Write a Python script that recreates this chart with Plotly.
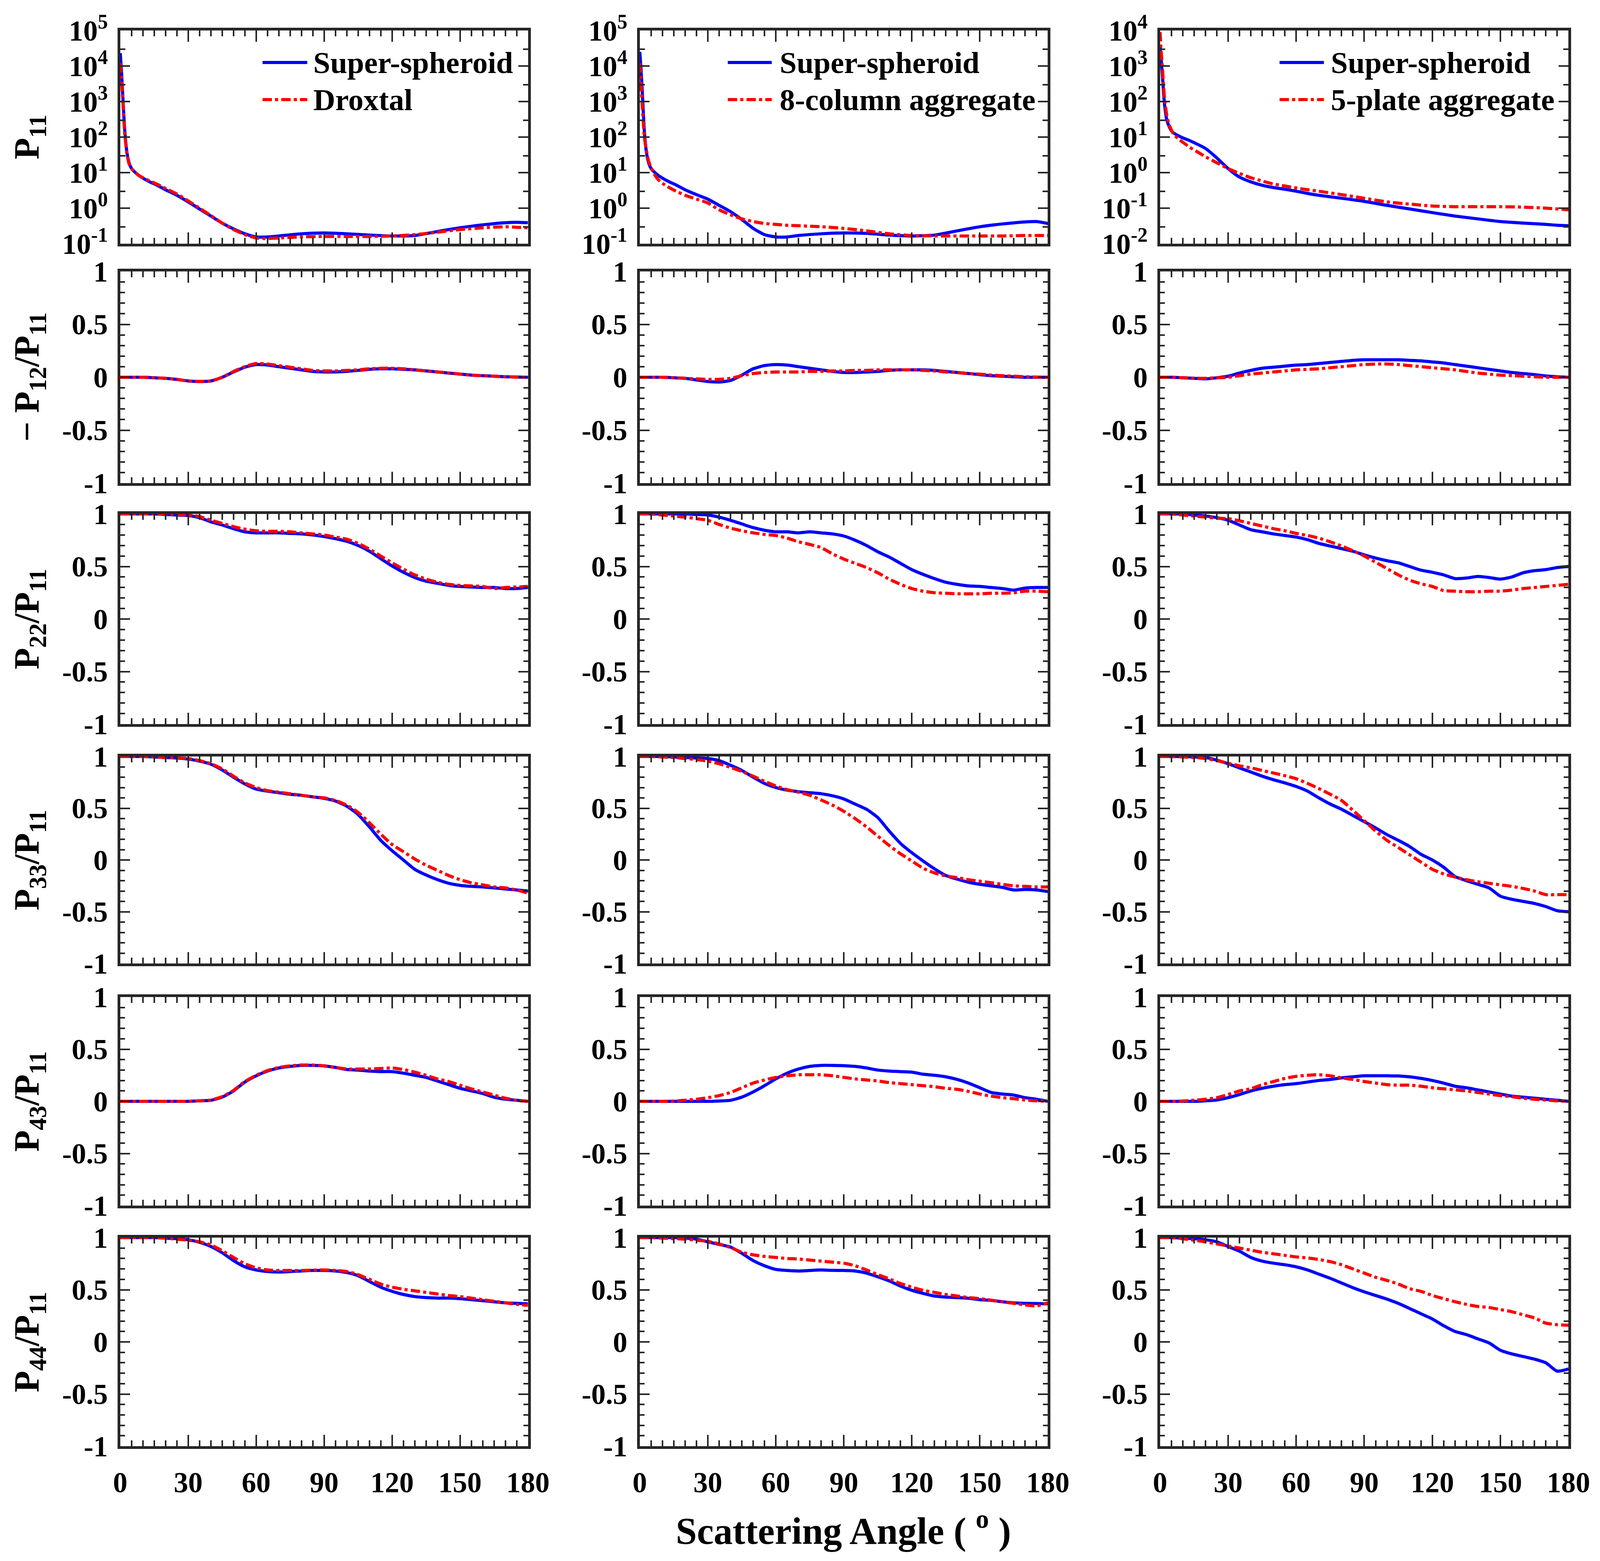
import plotly.graph_objects as go
from plotly.subplots import make_subplots

# ---------------- data ----------------
ang_p11 = [0, 0.5, 1, 1.5, 2, 3, 4, 5, 6, 8, 10, 13, 16, 20, 25, 30, 35, 40, 45, 50,
           55, 60, 65, 70, 80, 90, 100, 110, 120, 130, 140, 150, 160, 170, 175, 180]
ang = [0, 5, 10, 15, 20, 25, 30, 35, 40, 45, 50, 55, 60, 65, 70, 75, 80, 85, 90, 95,
       100, 105, 110, 115, 120, 125, 130, 135, 140, 145, 150, 155, 160, 165, 170, 175, 180]

blue_name = "Super-spheroid"
red_names = ["Droxtal", "8-column aggregate", "5-plate aggregate"]

p11_ss_a = [2.3e4, 8e3, 2e3, 5e2, 1.5e2, 35, 18, 13, 11, 8.5, 7, 5.5, 4.5, 3.3, 2.3, 1.5, 0.95, 0.6, 0.38, 0.26,
            0.19, 0.155, 0.155, 0.165, 0.19, 0.2, 0.19, 0.175, 0.165, 0.17, 0.22, 0.28, 0.34, 0.39, 0.4, 0.39]
p11_droxtal = [1.2e4, 5e3, 1.5e3, 4e2, 1.2e2, 32, 17, 13, 11, 8.5, 7.2, 5.8, 4.8, 3.6, 2.5, 1.6, 1.0, 0.62, 0.38, 0.25,
               0.18, 0.145, 0.14, 0.145, 0.155, 0.16, 0.16, 0.16, 0.165, 0.18, 0.21, 0.25, 0.28, 0.3, 0.29, 0.28]
p11_ss_b = [2.5e4, 9e3, 2.5e3, 6e2, 1.5e2, 35, 18, 13, 11, 8.5, 7, 5.5, 4.5, 3.3, 2.4, 1.8, 1.2, 0.8, 0.48, 0.27,
            0.18, 0.155, 0.155, 0.17, 0.19, 0.2, 0.195, 0.175, 0.165, 0.175, 0.23, 0.3, 0.36, 0.41, 0.42, 0.37]
p11_col8 = [1.2e4, 4e3, 1e3, 3e2, 1e2, 40, 20, 14, 10, 6.5, 5, 3.8, 3, 2.3, 1.8, 1.4, 0.9, 0.65, 0.5, 0.42,
            0.37, 0.35, 0.33, 0.32, 0.3, 0.27, 0.23, 0.19, 0.17, 0.165, 0.165, 0.165, 0.165, 0.17, 0.17, 0.17]
p11_ss_c = [3.8e3, 1.5e3, 6e2, 2e2, 80, 30, 20, 15, 13, 11, 9.5, 8, 6.5, 4.8, 2.6, 1.3, 0.75, 0.55, 0.44, 0.38,
            0.34, 0.3, 0.26, 0.23, 0.19, 0.155, 0.12, 0.095, 0.075, 0.06, 0.05, 0.042, 0.038, 0.035, 0.033, 0.032]
p11_plate5 = [9e3, 2.5e3, 1e3, 3e2, 1.2e2, 40, 22, 16, 12, 9, 7.2, 5.2, 4, 2.8, 1.9, 1.3, 0.95, 0.72, 0.58, 0.48,
              0.42, 0.37, 0.33, 0.3, 0.24, 0.19, 0.15, 0.13, 0.115, 0.11, 0.11, 0.11, 0.107, 0.1, 0.095, 0.09]

m12_ss_a = [0, 0, 0, -0.005, -0.01, -0.02, -0.035, -0.04, -0.035, 0.0, 0.05, 0.095, 0.12, 0.115, 0.1, 0.085, 0.07, 0.055, 0.05,
            0.05, 0.055, 0.065, 0.075, 0.08, 0.08, 0.075, 0.07, 0.06, 0.05, 0.04, 0.03, 0.02, 0.015, 0.01, 0.005, 0.002, 0]
m12_droxtal = [0, 0, 0, -0.005, -0.01, -0.02, -0.035, -0.04, -0.035, 0.0, 0.055, 0.1, 0.13, 0.125, 0.11, 0.095, 0.08, 0.065, 0.06,
               0.06, 0.065, 0.07, 0.08, 0.085, 0.085, 0.08, 0.07, 0.06, 0.05, 0.04, 0.03, 0.02, 0.015, 0.01, 0.005, 0.002, 0]
m12_ss_b = [0, 0, 0, -0.005, -0.01, -0.025, -0.04, -0.045, -0.03, 0.02, 0.08, 0.11, 0.12, 0.115, 0.1, 0.085, 0.07, 0.055, 0.045,
            0.045, 0.05, 0.055, 0.065, 0.07, 0.07, 0.07, 0.065, 0.055, 0.045, 0.035, 0.025, 0.015, 0.01, 0.005, 0, 0, 0]
m12_col8 = [0, 0, 0, -0.005, -0.01, -0.015, -0.02, -0.02, -0.01, 0.015, 0.035, 0.045, 0.05, 0.05, 0.05, 0.055, 0.055, 0.06, 0.06,
            0.065, 0.065, 0.07, 0.07, 0.07, 0.07, 0.065, 0.06, 0.05, 0.045, 0.035, 0.03, 0.02, 0.015, 0.01, 0.005, 0.002, 0]
m12_ss_c = [0, 0, -0.005, -0.01, -0.015, -0.005, 0.01, 0.04, 0.065, 0.085, 0.095, 0.105, 0.115, 0.12, 0.13, 0.14, 0.15, 0.16, 0.165,
            0.165, 0.165, 0.165, 0.16, 0.155, 0.145, 0.135, 0.12, 0.105, 0.09, 0.075, 0.06, 0.045, 0.035, 0.025, 0.012, 0.005, 0]
m12_plate5 = [0, 0, -0.005, -0.008, -0.01, -0.005, 0.0, 0.015, 0.03, 0.04, 0.05, 0.06, 0.07, 0.075, 0.08, 0.09, 0.1, 0.11, 0.12,
              0.125, 0.125, 0.12, 0.11, 0.1, 0.09, 0.08, 0.07, 0.055, 0.04, 0.03, 0.02, 0.015, 0.01, 0.005, 0, 0, 0]

p22_ss_a = [1, 1, 1, 1, 0.995, 0.99, 0.985, 0.965, 0.925, 0.895, 0.86, 0.83, 0.82, 0.82, 0.82, 0.815, 0.81, 0.8, 0.785,
            0.765, 0.74, 0.7, 0.645, 0.575, 0.505, 0.445, 0.395, 0.36, 0.34, 0.32, 0.31, 0.305, 0.3, 0.3, 0.29, 0.29, 0.3]
p22_droxtal = [1, 1, 1, 1, 1, 0.995, 0.99, 0.975, 0.94, 0.91, 0.88, 0.855, 0.84, 0.835, 0.835, 0.83, 0.82, 0.81, 0.8,
               0.78, 0.76, 0.72, 0.665, 0.6, 0.535, 0.475, 0.42, 0.38, 0.35, 0.33, 0.32, 0.315, 0.31, 0.29, 0.3, 0.305, 0.31]
p22_ss_b = [1, 1, 1, 1, 1, 0.995, 0.99, 0.97, 0.94, 0.905, 0.87, 0.845, 0.83, 0.83, 0.82, 0.83, 0.82, 0.81, 0.79,
            0.75, 0.7, 0.64, 0.59, 0.53, 0.47, 0.425, 0.385, 0.35, 0.33, 0.315, 0.31, 0.3, 0.29, 0.275, 0.295, 0.3, 0.3]
p22_col8 = [1, 1, 0.99, 0.98, 0.97, 0.955, 0.94, 0.9, 0.865, 0.84, 0.82, 0.805, 0.795, 0.77, 0.735, 0.71, 0.68, 0.62, 0.57,
            0.53, 0.49, 0.44, 0.38, 0.33, 0.29, 0.265, 0.25, 0.245, 0.24, 0.24, 0.24, 0.245, 0.245, 0.25, 0.265, 0.265, 0.26]
p22_ss_c = [1, 1, 1, 0.99, 0.98, 0.965, 0.94, 0.895, 0.85, 0.83, 0.81, 0.795, 0.78, 0.755, 0.72, 0.695, 0.67, 0.645, 0.61,
            0.58, 0.555, 0.535, 0.5, 0.465, 0.445, 0.42, 0.385, 0.39, 0.405, 0.395, 0.38, 0.4, 0.44, 0.46, 0.47, 0.49, 0.5]
p22_plate5 = [1, 1, 0.99, 0.98, 0.97, 0.96, 0.955, 0.935, 0.91, 0.885, 0.86, 0.84, 0.815, 0.795, 0.77, 0.735, 0.695, 0.65, 0.6,
              0.54, 0.48, 0.42, 0.37, 0.335, 0.31, 0.27, 0.265, 0.26, 0.26, 0.265, 0.265, 0.275, 0.29, 0.3, 0.31, 0.32, 0.33]

p33_ss_a = [1, 1, 1, 0.995, 0.99, 0.985, 0.975, 0.955, 0.925, 0.87, 0.8, 0.735, 0.685, 0.665, 0.65, 0.635, 0.625, 0.61, 0.595,
            0.57, 0.52, 0.44, 0.32, 0.19, 0.09, 0.0, -0.09, -0.145, -0.19, -0.225, -0.245, -0.255, -0.26, -0.27, -0.28, -0.29, -0.3]
p33_droxtal = [1, 1, 1, 0.995, 0.99, 0.985, 0.98, 0.96, 0.93, 0.88, 0.81, 0.745, 0.7, 0.67, 0.655, 0.64, 0.625, 0.61, 0.6,
               0.575, 0.53, 0.46, 0.36, 0.25, 0.15, 0.08, 0.01, -0.05, -0.1, -0.15, -0.19, -0.22, -0.24, -0.26, -0.27, -0.29, -0.32]
p33_ss_b = [1, 1, 1, 0.995, 0.99, 0.985, 0.98, 0.96, 0.915, 0.865, 0.8, 0.74, 0.7, 0.675, 0.66, 0.65, 0.64, 0.62, 0.59,
            0.54, 0.49, 0.41, 0.28, 0.16, 0.07, -0.01, -0.085, -0.15, -0.185, -0.215, -0.235, -0.25, -0.265, -0.29, -0.285, -0.29, -0.305]
p33_col8 = [1, 1, 0.995, 0.99, 0.98, 0.97, 0.955, 0.93, 0.895, 0.855, 0.81, 0.76, 0.715, 0.68, 0.655, 0.625, 0.58, 0.53, 0.47,
            0.4, 0.32, 0.23, 0.14, 0.06, -0.01, -0.08, -0.125, -0.155, -0.17, -0.19, -0.205, -0.22, -0.235, -0.25, -0.255, -0.26, -0.26]
p33_ss_c = [1, 1, 1, 0.995, 0.99, 0.965, 0.93, 0.89, 0.85, 0.81, 0.775, 0.745, 0.71, 0.665, 0.6, 0.54, 0.49, 0.43, 0.37,
            0.31, 0.245, 0.19, 0.13, 0.055, 0.0, -0.07, -0.16, -0.2, -0.235, -0.27, -0.35, -0.38, -0.4, -0.42, -0.45, -0.49, -0.5]
p33_plate5 = [1, 1, 0.995, 0.99, 0.98, 0.96, 0.935, 0.91, 0.89, 0.865, 0.84, 0.815, 0.785, 0.74, 0.69, 0.635, 0.575, 0.48, 0.38,
              0.28, 0.19, 0.12, 0.05, -0.02, -0.09, -0.135, -0.165, -0.19, -0.21, -0.225, -0.24, -0.255, -0.275, -0.3, -0.335, -0.335, -0.335]

p43_ss_a = [0, 0, 0, 0, 0, 0, 0, 0.005, 0.01, 0.04, 0.1, 0.185, 0.245, 0.29, 0.32, 0.335, 0.345, 0.345, 0.34,
            0.325, 0.305, 0.3, 0.29, 0.285, 0.285, 0.27, 0.25, 0.23, 0.195, 0.16, 0.125, 0.1, 0.075, 0.04, 0.02, 0.01, 0]
p43_droxtal = [0, 0, 0, 0, 0, 0, 0, 0.005, 0.012, 0.045, 0.105, 0.19, 0.25, 0.295, 0.325, 0.34, 0.348, 0.348, 0.34,
               0.325, 0.31, 0.31, 0.31, 0.315, 0.32, 0.305, 0.28, 0.25, 0.215, 0.19, 0.155, 0.12, 0.09, 0.06, 0.03, 0.01, 0]
p43_ss_b = [0, 0, 0, 0, 0, 0, 0, 0.003, 0.01, 0.04, 0.09, 0.15, 0.215, 0.27, 0.31, 0.335, 0.345, 0.345, 0.342,
            0.335, 0.32, 0.3, 0.29, 0.285, 0.28, 0.26, 0.25, 0.235, 0.21, 0.175, 0.13, 0.085, 0.07, 0.06, 0.035, 0.02, 0]
p43_col8 = [0, 0, 0, 0.003, 0.01, 0.02, 0.035, 0.055, 0.085, 0.13, 0.175, 0.205, 0.23, 0.245, 0.255, 0.255, 0.255, 0.245, 0.23,
            0.215, 0.205, 0.195, 0.18, 0.17, 0.16, 0.15, 0.14, 0.125, 0.115, 0.095, 0.07, 0.05, 0.035, 0.025, 0.013, 0.005, 0]
p43_ss_c = [0, 0, 0, 0, 0.005, 0.013, 0.035, 0.065, 0.1, 0.125, 0.145, 0.16, 0.17, 0.185, 0.2, 0.21, 0.225, 0.235, 0.245,
            0.245, 0.245, 0.243, 0.235, 0.22, 0.2, 0.175, 0.145, 0.13, 0.11, 0.09, 0.07, 0.05, 0.04, 0.03, 0.02, 0.01, 0]
p43_plate5 = [0, 0, 0.003, 0.01, 0.02, 0.035, 0.065, 0.1, 0.12, 0.16, 0.19, 0.22, 0.24, 0.25, 0.255, 0.245, 0.225, 0.21, 0.19,
              0.175, 0.16, 0.155, 0.155, 0.145, 0.13, 0.12, 0.11, 0.1, 0.085, 0.07, 0.055, 0.045, 0.03, 0.02, 0.012, 0.005, 0]

p44_ss_a = [1, 1, 1, 1, 0.995, 0.99, 0.98, 0.955, 0.915, 0.855, 0.78, 0.72, 0.69, 0.675, 0.67, 0.675, 0.68, 0.685, 0.685,
            0.68, 0.665, 0.635, 0.58, 0.525, 0.485, 0.455, 0.435, 0.425, 0.42, 0.42, 0.415, 0.405, 0.395, 0.385, 0.375, 0.37, 0.365]
p44_droxtal = [1, 1, 1, 1, 0.995, 0.985, 0.975, 0.96, 0.93, 0.875, 0.81, 0.75, 0.71, 0.69, 0.685, 0.685, 0.685, 0.688, 0.69,
               0.685, 0.675, 0.645, 0.6, 0.555, 0.525, 0.505, 0.49, 0.475, 0.46, 0.445, 0.435, 0.42, 0.405, 0.39, 0.375, 0.36, 0.35]
p44_ss_b = [1, 1, 1, 1, 0.995, 0.985, 0.96, 0.935, 0.91, 0.85, 0.78, 0.73, 0.695, 0.685, 0.68, 0.685, 0.69, 0.686, 0.685,
            0.68, 0.66, 0.625, 0.585, 0.535, 0.495, 0.465, 0.44, 0.43, 0.425, 0.418, 0.405, 0.398, 0.385, 0.375, 0.37, 0.368, 0.365]
p44_col8 = [1, 1, 0.995, 0.99, 0.985, 0.975, 0.965, 0.94, 0.905, 0.86, 0.835, 0.82, 0.81, 0.8, 0.795, 0.785, 0.775, 0.765, 0.755,
            0.73, 0.69, 0.645, 0.605, 0.56, 0.525, 0.495, 0.475, 0.455, 0.44, 0.425, 0.415, 0.4, 0.385, 0.37, 0.355, 0.345, 0.375]
p44_ss_c = [1, 1, 0.995, 0.99, 0.98, 0.96, 0.915, 0.87, 0.81, 0.775, 0.755, 0.74, 0.72, 0.69, 0.65, 0.61, 0.565, 0.52, 0.48,
            0.445, 0.41, 0.37, 0.32, 0.27, 0.22, 0.155, 0.1, 0.07, 0.03, -0.01, -0.08, -0.115, -0.14, -0.165, -0.2, -0.28, -0.26]
p44_plate5 = [1, 1, 0.99, 0.975, 0.96, 0.94, 0.92, 0.9, 0.88, 0.86, 0.845, 0.83, 0.815, 0.805, 0.79, 0.77, 0.74, 0.7, 0.66,
              0.62, 0.59, 0.555, 0.51, 0.485, 0.445, 0.415, 0.385, 0.36, 0.34, 0.33, 0.31, 0.29, 0.26, 0.23, 0.18, 0.165, 0.16]

row_labels = ["P<sub>11</sub>", "\u2212 P<sub>12</sub>/P<sub>11</sub>", "P<sub>22</sub>/P<sub>11</sub>",
              "P<sub>33</sub>/P<sub>11</sub>", "P<sub>43</sub>/P<sub>11</sub>", "P<sub>44</sub>/P<sub>11</sub>"]
x_ticks = [0, 30, 60, 90, 120, 150, 180]
lin_ticks = [-1, -0.5, 0, 0.5, 1]
lin_ticktext = ["-1", "-0.5", "0", "0.5", "1"]
log_ranges = [(-1, 5), (-1, 5), (-2, 4)]
x_title = "Scattering Angle ( <sup>o</sup> )"

panels = [
    [(p11_ss_a, p11_droxtal), (p11_ss_b, p11_col8), (p11_ss_c, p11_plate5)],
    [(m12_ss_a, m12_droxtal), (m12_ss_b, m12_col8), (m12_ss_c, m12_plate5)],
    [(p22_ss_a, p22_droxtal), (p22_ss_b, p22_col8), (p22_ss_c, p22_plate5)],
    [(p33_ss_a, p33_droxtal), (p33_ss_b, p33_col8), (p33_ss_c, p33_plate5)],
    [(p43_ss_a, p43_droxtal), (p43_ss_b, p43_col8), (p43_ss_c, p43_plate5)],
    [(p44_ss_a, p44_droxtal), (p44_ss_b, p44_col8), (p44_ss_c, p44_plate5)],
]

# ---------------- layout geometry (reference pixel grid 4364 x 3997) ----------------
RW, RH = 4364, 3997          # reference grid used for fractions
W, H = 4096, 3997            # actual browser viewport
FONT = "Liberation Serif"
FRAME = "#262626"
col_px = [(328, 1440), (1745, 2858), (3164, 4278)]
row_px = [(78, 624), (695, 1237), (1316, 1854), (1937, 2467), (2553, 3087), (3169, 3703)]

fig = make_subplots(rows=6, cols=3)

for r in range(6):
    for c in range(3):
        blue, red = panels[r][c]
        xs = ang_p11 if r == 0 else ang
        fig.add_trace(go.Scatter(x=xs, y=blue, mode="lines", name=blue_name,
                                 line=dict(color="#0000ff", width=8, shape="spline", smoothing=0.6),
                                 showlegend=False), row=r + 1, col=c + 1)
        fig.add_trace(go.Scatter(x=xs, y=red, mode="lines", name=red_names[c],
                                 line=dict(color="#ff0000", width=8, dash="dashdot", shape="spline", smoothing=0.6),
                                 showlegend=False), row=r + 1, col=c + 1)

tickfont = dict(family=FONT, size=74, color="black", weight="bold")
for r in range(6):
    for c in range(3):
        idx = r * 3 + c + 1
        xa = "xaxis" if idx == 1 else f"xaxis{idx}"
        ya = "yaxis" if idx == 1 else f"yaxis{idx}"
        x0, x1 = col_px[c]
        y0, y1 = row_px[r]
        fig.layout[xa].update(
            domain=[x0 / RW, x1 / RW], range=[0, 180], tickvals=x_ticks, automargin=False,
            showticklabels=(r == 5), tickfont=tickfont, ticklabelstandoff=22,
            ticks="inside", ticklen=29, tickwidth=4, tickcolor=FRAME,
            minor=dict(dtick=5, ticks="inside", ticklen=15, tickwidth=4, tickcolor=FRAME, showgrid=False),
            showline=True, linewidth=7, linecolor=FRAME, mirror="ticks",
            showgrid=False, zeroline=False)
        common_y = dict(domain=[1 - y1 / RH, 1 - y0 / RH], tickfont=tickfont, ticklabelstandoff=10,
                        automargin=False, ticks="inside", ticklen=25, tickwidth=4, tickcolor=FRAME,
                        showline=True, linewidth=7, linecolor=FRAME, mirror="ticks",
                        showgrid=False, zeroline=False)
        if r == 0:
            lo, hi = log_ranges[c]
            tv = [10.0 ** k for k in range(lo, hi + 1)]
            tt = [f"10<sup>{k}</sup>" for k in range(lo, hi + 1)]
            mv = [3.0 * 10.0 ** k for k in range(lo, hi)]
            fig.layout[ya].update(type="log", range=[lo, hi], tickvals=tv, ticktext=tt,
                                  minor=dict(tickvals=mv, ticks="inside", ticklen=13, tickwidth=4,
                                             tickcolor=FRAME, showgrid=False),
                                  **common_y)
        else:
            fig.layout[ya].update(range=[-1, 1], tickvals=lin_ticks, ticktext=lin_ticktext,
                                  minor=dict(dtick=0.1, ticks="inside", ticklen=12, tickwidth=4,
                                             tickcolor=FRAME, showgrid=False),
                                  **common_y)

annotations = []
shapes = []
for r in range(6):
    y0, y1 = row_px[r]
    annotations.append(dict(text=row_labels[r], x=80 / RW, y=1 - (y0 + y1) / 2 / RH, xref="paper", yref="paper",
                            showarrow=False, textangle=-90, xanchor="center", yanchor="middle",
                            font=dict(family=FONT, size=90, color="black", weight="bold")))
annotations.append(dict(text=x_title, x=2300 / RW, y=1 - 3912 / RH, xref="paper", yref="paper", showarrow=False,
                        xanchor="center", yanchor="middle",
                        font=dict(family=FONT, size=97, color="black", weight="bold")))
leg_px = [(716, 838, 852), (1985, 2105, 2124), (3490, 3611, 3628)]
leg_rows_px = [160, 255]
for c in range(3):
    lx0, lx1, tx = leg_px[c]
    for k, (nm, colr, dsh) in enumerate([(blue_name, "#0000ff", "solid"), (red_names[c], "#ff0000", "dashdot")]):
        yy = 1 - leg_rows_px[k] / RH
        shapes.append(dict(type="line", xref="paper", yref="paper", x0=lx0 / RW, x1=lx1 / RW, y0=yy, y1=yy,
                           line=dict(color=colr, width=8, dash=dsh)))
        annotations.append(dict(text=nm, x=tx / RW, y=yy, xref="paper", yref="paper", showarrow=False,
                                xanchor="left", yanchor="middle",
                                font=dict(family=FONT, size=78, color="black", weight="bold")))

fig.update_layout(template="none", width=W, height=H, margin=dict(l=0, r=0, t=0, b=0, pad=0),
                  paper_bgcolor="white", plot_bgcolor="white", showlegend=False,
                  annotations=annotations, shapes=shapes,
                  font=dict(family=FONT, color="black"))

fig.write_html("out.html", config={"displayModeBar": False},
               post_script="document.body.style.margin='0';")
